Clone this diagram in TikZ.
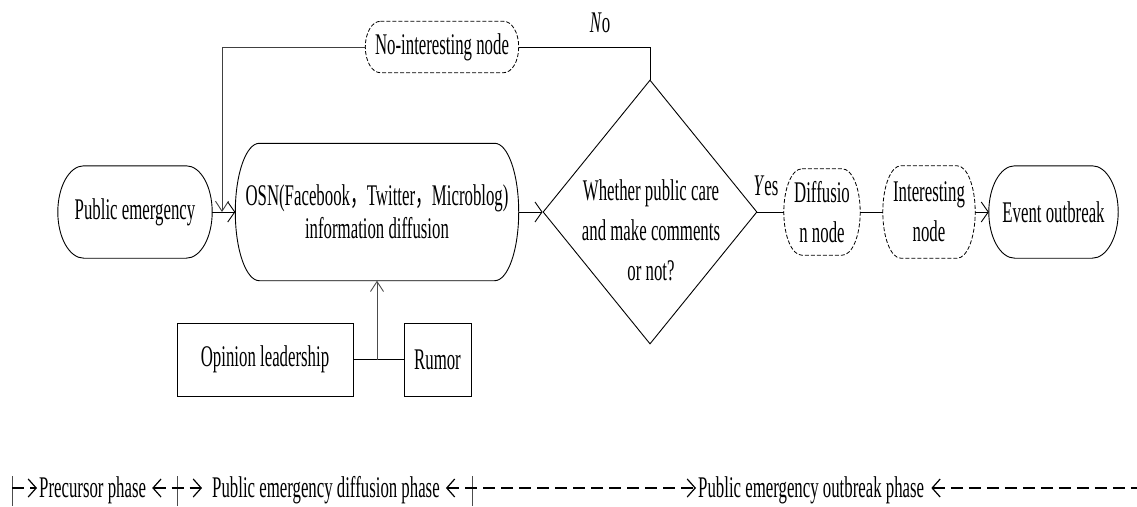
\documentclass[tikz,border=0pt]{standalone}
\usepackage{fontspec}
\setmainfont{Liberation Serif}[FakeStretch=0.56]
\newfontfamily\cjk{Noto Sans CJK SC}[FakeStretch=0.56]
\usetikzlibrary{arrows.meta,calc,shapes.geometric}
\tikzset{
  box/.style={draw=none, inner sep=0pt, align=center},
  rectbox/.style={draw, line width=0.9pt, inner sep=0pt, align=center},
  solidline/.style={draw, line width=0.9pt},
  dashline/.style={draw, line width=0.8pt, dash pattern=on 4pt off 2pt},
  conn/.style={line width=1pt},
  arr/.style={line width=1pt, -{Straight Barb[length=7pt,width=20pt,line width=0.9pt]}},
  varr/.style={line width=1pt, -{Straight Barb[length=10pt,width=13pt,line width=0.9pt]}},
  ph/.style={line width=2.6pt, dash pattern=on 12pt off 6pt},
  phtip/.tip={Straight Barb[length=8pt,width=18pt,line width=1.2pt]},
  bar/.style={line width=0.8pt, black!70},
  wide/.style={font=\fontsize{30}{40}\selectfont}
}
\begin{document}
\begin{tikzpicture}[x=1pt,y=1pt,font=\fontsize{30}{33}\selectfont]
\useasboundingbox (0,0) rectangle (1137,-506);

% main nodes
\node[box, minimum width=154pt, minimum height=92pt] (pe) at (135,-212) {Public emergency};
\node[box, minimum width=283pt, minimum height=137pt] (osn) at (377,-212)
  {OSN(Facebook{\cjk ，}Twitter{\cjk ，}Microblog)\\information diffusion};
\node[box, minimum width=153pt, minimum height=51pt] (noint) at (442,-47) {No-interesting node};
\node[diamond, draw, line width=0.9pt, minimum width=214pt, minimum height=264pt, inner sep=0pt] (dia) at (650,-212) {};
\node[box, wide] (dtxt) at (651,-230) {Whether public care\\and make comments\\or not?};
\node[box, wide, minimum width=76pt, minimum height=86pt] (dif) at (822,-212) {Diffusio\\n node};
\node[box, wide, minimum width=92pt, minimum height=92pt] (intn) at (929,-212) {Interesting\\node};
\node[box, minimum width=129pt, minimum height=92pt] (ev) at (1053.5,-212) {Event outbreak};
\node[rectbox, minimum width=176pt, minimum height=73pt] (op) at (265,-359.5) {Opinion leadership};
\node[rectbox, minimum width=67pt, minimum height=73pt] (ru) at (437.5,-359.5) {Rumor};

% labels
\node[box] (no) at (600,-23) {\textit{N}o};
\node[box] (yes) at (766,-186) {\textit{Y}es};

% stadium outlines
\foreach \k/\r/\s in {pe/26pt/solidline, osn/24pt/solidline, ev/26pt/solidline,
                      noint/15pt/dashline, dif/18pt/dashline, intn/18pt/dashline}{
  \path[\s] let \p1=(\k.south west), \p2=(\k.north east), \n1={(\y2-\y1)/2} in
    (\x1+\r,\y2) -- (\x2-\r,\y2)
    arc[start angle=90, end angle=-90, x radius=\r, y radius=\n1]
    -- (\x1+\r,\y1)
    arc[start angle=270, end angle=90, x radius=\r, y radius=\n1] -- cycle;
}

% connectors
\coordinate (tl) at (222,-47);
\coordinate (j) at (377,-359.5);
\draw[conn] (dia.north) -- (dia.north |- noint.east) -- (noint.east);
\draw[varr, black!75] (noint.west) -- (tl) -- (tl |- pe.east);
\draw[arr] (pe.east) -- (osn.west);
\draw[arr] (osn.east) -- (dia.west);
\draw[conn] (dia.east) -- (dif.west);
\draw[conn] (dif.east) -- (intn.west);
\draw[arr] (intn.east) -- (ev.west);
\draw[conn] (op.east) -- (ru.west);
\draw[varr, black!70] (j) -- (osn.south);

% phase line
\coordinate (b1t) at (12,-476); \coordinate (b1b) at (12,-506);
\coordinate (b2t) at (177,-476); \coordinate (b2b) at (177,-506);
\coordinate (b3t) at (472,-476); \coordinate (b3b) at (472,-506);
\coordinate (b1) at (12,-488);
\coordinate (e) at (1137,-488);
\node[box, anchor=west] (t1) at (39,-490) {Precursor phase};
\node[box, anchor=west] (t2) at (212,-490) {Public emergency diffusion phase};
\node[box, anchor=west] (t3) at (698,-490) {Public emergency outbreak phase};
\draw[bar] (b1t) -- (b1b);
\draw[bar] (b2t) -- (b2b);
\draw[bar] (b3t) -- (b3b);
\draw[ph, -{phtip}] (b1) -- ($(t1.west |- b1)+(-2,0)$);
\draw[ph, {phtip}-{phtip}] ($(t1.east |- b1)+(6,0)$) -- ($(t2.west |- b1)+(-10,0)$);
\draw[ph, {phtip}-{phtip}] ($(t2.east |- b1)+(6,0)$) -- ($(t3.west |- b1)+(-2,0)$);
\draw[ph, {phtip}-] ($(t3.east |- b1)+(7,0)$) -- (e);
\end{tikzpicture}
\end{document}
